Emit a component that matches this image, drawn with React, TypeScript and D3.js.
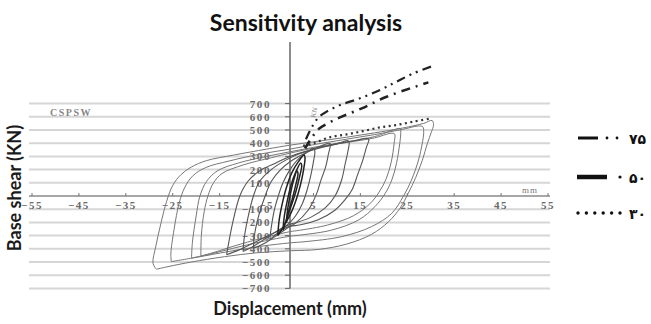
import * as d3 from 'd3';

type Pt = [number, number];

// axis ticks
const xTickLabels = [-55, -45, -35, -25, -15, -5, 5, 15, 25, 35, 45, 55];
const yTickLabels = [700, 600, 500, 400, 300, 200, 100, -100, -200, -300, -400, -500, -600, -700];

// hysteresis loops (displacement mm, base shear kN)
const loop1: Pt[] = [
  [-28.5, -555], [-29.2, -510], [-28.6, -380], [-27.6, -220], [-26.3, -40], [-25, 80], [-23.3, 160],
  [-21, 220], [-17.8, 268], [-12, 310], [-5, 355], [0, 385], [6, 415], [12, 445], [18, 478], [24, 515],
  [28.5, 550], [30.3, 572], [30.6, 540], [30.1, 480], [29.3, 400], [28.2, 270], [26.8, 140], [25.2, 20],
  [23.5, -90], [21, -195], [17.4, -290], [12, -365], [6, -405], [0, -415], [-7, -430], [-14, -460],
  [-21, -500], [-26, -535], [-28.5, -555],
];
const loop2: Pt[] = [
  [-25.3, -497], [-25.4, -440], [-24.7, -250], [-23.6, -50], [-22.5, 60], [-20.8, 150], [-18, 215],
  [-13, 265], [-6, 320], [0, 355], [6, 395], [12, 430], [18, 465], [24, 505], [27.3, 530], [28.3, 525],
  [28.5, 480], [28.2, 400], [27.4, 273], [25.9, 121], [24.2, 0], [21.7, -131], [17.4, -232], [11, -308],
  [3.2, -346], [0, -355], [-6, -380], [-13, -420], [-20, -465], [-25.3, -497],
];
const loop3: Pt[] = [
  [-21, -470], [-20.8, -350], [-20, -150], [-19.2, 0], [-17.8, 110], [-15.5, 190], [-11, 250], [-5, 300],
  [0, 335], [6, 375], [12, 410], [18, 450], [22.5, 505], [23.5, 510], [23.6, 470], [23.4, 399], [22.7, 247],
  [21.7, 121], [20.3, 20], [18.1, -81], [14.6, -182], [8.9, -258], [2.5, -295], [0, -305], [-6, -345],
  [-12, -395], [-17, -440], [-21, -470],
];
const loop4: Pt[] = [
  [-19, -455], [-18.9, -300], [-18.3, -120], [-17.5, 0], [-16.3, 100], [-14.5, 170], [-10, 235], [-4, 290],
  [0, 325], [6, 370], [12, 405], [18, 440], [21.5, 475], [22.3, 470], [22.2, 400], [21.6, 260], [20.5, 130],
  [19, 30], [17, -60], [13.5, -150], [8, -220], [2, -260], [0, -270], [-6, -320], [-12, -380], [-16, -425],
  [-19, -455],
];
const loop5: Pt[] = [
  [-13.5, -445], [-13.2, -380], [-12.2, -200], [-10.7, 0], [-9, 110], [-6.5, 190], [-3, 250], [0, 300],
  [4, 345], [9, 390], [14, 420], [16.2, 437], [16.8, 430], [16.3, 370], [15.5, 270], [14.4, 160], [13.2, 45],
  [11.7, -30], [9.5, -110], [6, -180], [2, -220], [0, -230], [-4, -290], [-8, -360], [-11, -410], [-13.5, -445],
];
const loop6: Pt[] = [
  [-10, -420], [-9.8, -330], [-9, -170], [-7.8, 0], [-6.5, 110], [-4, 200], [-1, 270], [2, 320], [6, 360],
  [10, 395], [12.2, 420], [12.6, 410], [12.3, 330], [11.8, 250], [11, 121], [9.6, 0], [7.5, -90], [4.5, -160],
  [1, -205], [0, -215], [-3, -270], [-6, -340], [-8.5, -395], [-10, -420],
];
const loop7: Pt[] = [
  [-7.8, -396], [-7.6, -300], [-6.6, -140], [-5.3, 0], [-4, 110], [-2, 200], [0, 260], [3, 320], [6, 370],
  [8.2, 400], [8.6, 395], [8.2, 320], [7.6, 220], [6.6, 120], [5.7, 20], [3.9, -106], [1.1, -207], [0, -230],
  [-2.5, -290], [-5.5, -360], [-7.8, -396],
];
const loop8: Pt[] = [
  [-4.3, -330], [-4, -240], [-3.3, -100], [-2.5, 0], [-1.5, 100], [0, 200], [1.5, 270], [3.5, 330], [5, 360],
  [5.3, 340], [5, 260], [4.4, 150], [3.6, 40], [2.6, -60], [1.2, -150], [0, -200], [-2, -260], [-4.3, -330],
];
const loop9: Pt[] = [
  [-2.6, -300], [-2.3, -180], [-1.6, -50], [-0.8, 60], [0.3, 170], [1.8, 260], [3, 310], [3.2, 290],
  [2.9, 200], [2.2, 80], [1.3, -30], [0.2, -130], [-1.2, -220], [-2.6, -300],
];
const loop10: Pt[] = [
  [-1.5, -260], [-1.2, -150], [-0.6, -40], [0.2, 80], [1.2, 180], [2.3, 250], [2.5, 230], [2, 140],
  [1.3, 40], [0.4, -60], [-0.6, -160], [-1.5, -260],
];
const loop11: Pt[] = [
  [-0.8, -200], [-0.5, -100], [0, 0], [0.7, 110], [1.5, 190], [1.7, 170], [1.2, 80], [0.5, -20],
  [-0.2, -110], [-0.8, -200],
];

const outerLoops = [loop1, loop2, loop3, loop4];
const innerLoops = [loop5, loop6, loop7, loop8];
const coreLoops = [loop9, loop10, loop11];

// sensitivity envelopes
const env75: Pt[] = [
  [3.4, 430], [4.8, 530], [6.2, 600], [7.8, 639], [10.7, 689], [14.9, 740], [19.2, 803], [22.7, 866],
  [26.3, 929], [30.6, 987],
];
const env50: Pt[] = [
  [3.2, 360], [4.6, 440], [6.2, 510], [8, 550], [10.3, 590], [15.3, 664], [20.6, 752], [26.7, 828], [29.5, 861],
];
const env30: Pt[] = [
  [2.8, 380], [5, 399], [8.5, 445], [12.1, 467], [15.6, 492], [19.2, 520], [22.7, 538], [26.3, 563], [30.2, 589],
];
const legendLabels = ['۷۵', '۵۰', '۳۰'];

const W = 651;
const H = 324;

const x = d3.scaleLinear().domain([-55, 55]).range([32, 548]);
const y = d3.scaleLinear().domain([-700, 700]).range([288.4, 103.6]);

const line = d3.line<Pt>()
  .x(d => x(d[0]))
  .y(d => y(d[1]))
  .curve(d3.curveCatmullRom.alpha(0.5));

const tickFont = '"Liberation Serif", serif';
const fmt = (v: number) => (v < 0 ? '\u2212' + Math.abs(v) : String(v));

export default function App() {
  const gridX0 = 29;
  const gridX1 = 550;
  const x0 = x(0);
  const y0 = y(0);

  return (
    <svg width={W} height={H} style={{ position: 'absolute', left: 0, top: 0, background: '#fff' }}>
      {/* title */}
      <text x={306} y={31} textAnchor="middle" fontFamily="Lato, sans-serif" fontWeight="bold" fontSize={23} fill="#111">
        Sensitivity analysis
      </text>

      {/* gridlines */}
      {yTickLabels.map(v => (
        <line key={v} x1={gridX0} x2={gridX1} y1={y(v)} y2={y(v)} stroke="#d6d6d6" strokeWidth={2} />
      ))}
      {/* x axis */}
      <line x1={gridX0} x2={gridX1} y1={y0} y2={y0} stroke="#8a8a8a" strokeWidth={1.5} />
      {xTickLabels.map(v => (
        <g key={v}>
          <line x1={x(v)} x2={x(v)} y1={y0 - 3} y2={y0} stroke="#777" strokeWidth={1} />
          <text x={x(v)} y={209} textAnchor="middle" fontFamily={tickFont} fontWeight="bold" fontSize={11}
            letterSpacing={1.5} fill="#6a6a6a">{fmt(v)}</text>
        </g>
      ))}
      <text x={530} y={193} textAnchor="middle" fontFamily={tickFont} fontSize={9} letterSpacing={1} fill="#777">mm</text>

      {/* y axis */}
      <line x1={x0} x2={x0} y1={42} y2={y(-700)} stroke="#666" strokeWidth={1.5} />
      {yTickLabels.map(v => (
        <g key={v}>
          <line x1={x0 - 5} x2={x0} y1={y(v)} y2={y(v)} stroke="#666" strokeWidth={1} />
          <text x={271} y={y(v) + 4} textAnchor="end" fontFamily={tickFont} fontWeight="bold" fontSize={11}
            letterSpacing={1.6} fill="#6a6a6a">{fmt(v)}</text>
        </g>
      ))}

      <text x={50} y={116} fontFamily={tickFont} fontWeight="bold" fontSize={10} letterSpacing={1.5} fill="#888">CSPSW</text>
      <text transform="translate(315,118) rotate(-75)" fontFamily={tickFont} fontSize={7} fill="#888">KN</text>

      {/* hysteresis loops */}
      {outerLoops.map((d, i) => (
        <path key={'o' + i} d={line(d) ?? ''} fill="none" stroke="#777" strokeWidth={1} />
      ))}
      {innerLoops.map((d, i) => (
        <path key={'i' + i} d={line(d) ?? ''} fill="none" stroke="#555" strokeWidth={1.1} />
      ))}
      {coreLoops.map((d, i) => (
        <path key={'c' + i} d={line(d) ?? ''} fill="none" stroke="#222" strokeWidth={1.5} />
      ))}

      {/* envelopes */}
      <path d={line(env75) ?? ''} fill="none" stroke="#222" strokeWidth={2.2} strokeDasharray="9,5,2,5,2,5" />
      <path d={line(env50) ?? ''} fill="none" stroke="#222" strokeWidth={2.5} strokeDasharray="9,6,2,6" />
      <path d={line(env30) ?? ''} fill="none" stroke="#333" strokeWidth={2.2} strokeDasharray="2,3.5" />

      {/* axis titles */}
      <text transform="translate(21,188) rotate(-90)" textAnchor="middle" fontFamily="Lato, sans-serif"
        fontWeight="bold" fontSize={18} fill="#1a1a1a">Base shear (KN)</text>
      <text x={290} y={315} textAnchor="middle" fontFamily="Lato, sans-serif" fontWeight="bold" fontSize={18}
        fill="#1a1a1a">Displacement (mm)</text>

      {/* legend */}
      <g fontFamily='"DejaVu Sans", sans-serif' fontWeight="bold" fontSize={14} fill="#111">
        <line x1={578} x2={598} y1={138} y2={138} stroke="#111" strokeWidth={3} />
        <circle cx={607} cy={138} r={1.4} />
        <circle cx={617} cy={138} r={1.4} />
        <text x={629} y={144}>{legendLabels[0]}</text>

        <line x1={577} x2={607} y1={177} y2={177} stroke="#111" strokeWidth={4.5} />
        <circle cx={620} cy={177} r={1.6} />
        <text x={629} y={183}>{legendLabels[1]}</text>

        {[0, 1, 2, 3, 4, 5].map(i => (
          <circle key={i} cx={578 + i * 8.4} cy={213} r={1.7} />
        ))}
        <text x={629} y={219}>{legendLabels[2]}</text>
      </g>
    </svg>
  );
}
